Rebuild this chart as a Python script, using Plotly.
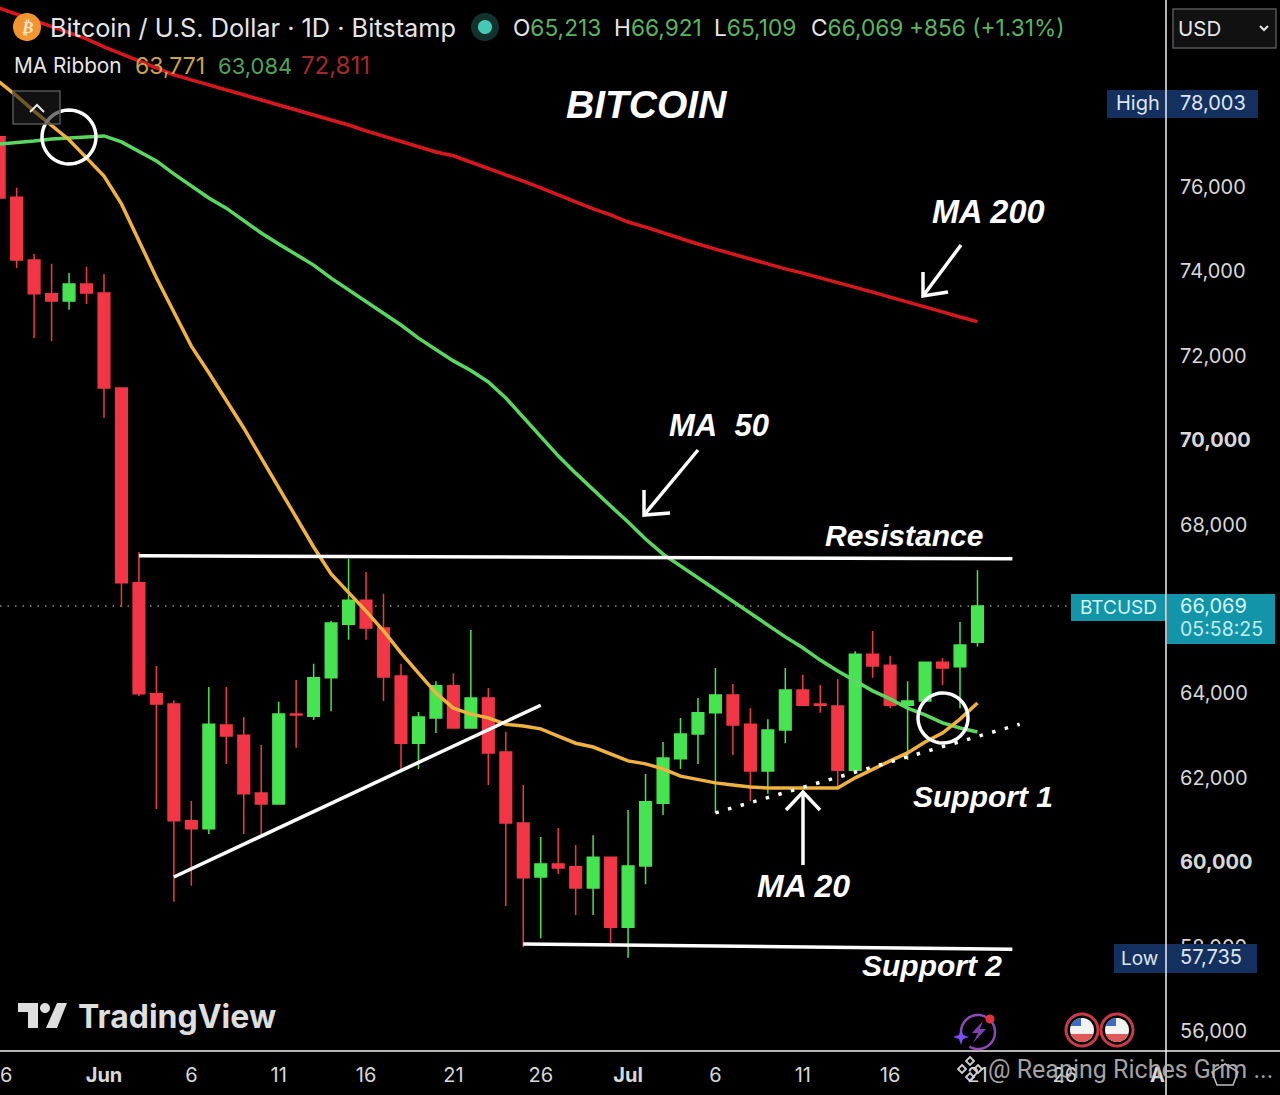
import numpy as np
import pandas as pd
import plotly.graph_objects as go

# ── Data ──────────────────────────────────────────────────────────────────────
DATES = pd.date_range("2024-05-26", "2024-07-21", freq="D")

OPEN = [77190, 75760, 74270, 73470, 73300, 73700,
        73490, 71240, 66620, 63990, 63750, 60980, 60790, 63250, 63010, 61640,
        61380, 63510, 63460, 64370, 65640, 66210, 65550, 64410, 62820, 63420,
        64180, 63180, 63890, 62610, 60930, 59650, 59960, 59890, 59390, 60120,
        58460, 59910, 61400, 62450, 63040, 63540, 63960, 63270, 62160, 63130,
        64080, 63750, 63700, 62180, 64930, 64670, 63720, 63820, 64740, 64630, 65213]
HIGH = [77330, 75980, 74410, 74180, 73960, 74110,
        73940, 71240, 67350, 64650, 63840, 61450, 64150, 64150, 63440, 62780,
        63800, 64320, 64700, 65720, 67190, 66880, 66360, 64700, 63560, 64290,
        64480, 65500, 64130, 63090, 61830, 60600, 60810, 60410, 60640, 60120,
        61240, 62090, 62850, 63420, 63890, 64600, 64220, 63650, 63390, 64600,
        64440, 64200, 64340, 65000, 65480, 64890, 64290, 64740, 64840, 65690, 66921]
LOW = [75740, 74080, 72420, 72350, 73090, 73230,
       70530, 66050, 63940, 61260, 59060, 59440, 60670, 62330, 60670, 60670,
       61380, 62710, 63370, 63580, 65270, 65270, 63820, 62140, 62210, 63060,
       63180, 63180, 61830, 58960, 57990, 58200, 59720, 58750, 58750, 58060,
       57735, 59480, 61120, 62210, 62330, 61170, 62540, 61450, 61620, 62820,
       63720, 63540, 61730, 62160, 64370, 63650, 62420, 63820, 64200, 63650, 65109]
CLOSE = [75740, 74270, 73470, 73300, 73700, 73490,
         71240, 66620, 63990, 63750, 60980, 60790, 63270, 62990, 61620, 61380,
         63510, 63490, 64370, 65670, 66210, 65550, 64390, 62820, 63440, 64180,
         63180, 63890, 62590, 60930, 59630, 59960, 59860, 59390, 60120, 58460,
         59910, 61430, 62470, 63040, 63540, 63960, 63250, 62160, 63130, 64080,
         63720, 63720, 62180, 64930, 64650, 63720, 63820, 64740, 64600, 65150, 66069]

MA20 = [78490, 78160, 77800, 77470, 77120, 76690,
        76260, 75600, 74720, 73850, 73040, 72230, 71600, 70930, 70290, 69580,
        68870, 68160, 67470, 66830, 66400, 65950, 65480, 64960, 64480, 64010,
        63650, 63510, 63420, 63270, 63230, 63160, 62990, 62820, 62730, 62560,
        62400, 62330, 62210, 62040, 61950, 61880, 61830, 61780, 61760, 61760,
        61780, 61780, 61760, 62000, 62210, 62400, 62590, 62850, 63060, 63390, 63771]
MA50 = [77020, 77050, 77090, 77140, 77160, 77190,
        77210, 77070, 76850, 76620, 76310, 76030, 75740, 75500, 75200, 74910,
        74650, 74410, 74150, 73840, 73560, 73300, 73010, 72730, 72420, 72160,
        71880, 71650, 71380, 71000, 70550, 70080, 69630, 69220, 68820, 68440,
        68060, 67660, 67300, 67020, 66730, 66450, 66170, 65910, 65620, 65340,
        65080, 64790, 64530, 64290, 64060, 63870, 63650, 63490, 63300, 63180, 63084]
MA200 = [80240, 80090, 79940, 79790, 79650, 79510,
         79320, 79150, 78990, 78820, 78660, 78540, 78420, 78320, 78180, 78060,
         77950, 77830, 77710, 77590, 77470, 77330, 77210, 77090, 76950, 76830,
         76740, 76590, 76450, 76310, 76140, 75980, 75810, 75650, 75480, 75340,
         75170, 75050, 74910, 74770, 74650, 74530, 74410, 74300, 74180, 74060,
         73960, 73850, 73750, 73630, 73510, 73390, 73280, 73160, 73040, 72920, 72811]

# hand drawn lines on the chart
RESISTANCE_X = ["2024-06-03", "2024-07-23"]
RESISTANCE_Y = [67260, 67190]
SUPPORT2_X = ["2024-06-25", "2024-07-23"]
SUPPORT2_Y = [58060, 57940]
RISING_X = ["2024-06-05", "2024-06-26"]
RISING_Y = [59650, 63720]
SUPPORT1_X = ["2024-07-06", "2024-07-23 10:00"]
SUPPORT1_Y = [61170, 63270]

PRICE_TICKS = [56000, 58000, 60000, 62000, 64000, 66000, 68000, 70000, 72000, 74000, 76000]
PRICE_LABELS = ["56,000", "58,000", "<b>60,000</b>", "62,000", "64,000", "66,000",
                "68,000", "<b>70,000</b>", "72,000", "74,000", "76,000"]
DATE_TICKS = ["2024-06-01", "2024-06-06", "2024-06-11", "2024-06-16", "2024-06-21", "2024-06-26",
              "2024-07-01", "2024-07-06", "2024-07-11", "2024-07-16", "2024-07-21", "2024-07-26"]
DATE_LABELS = ["<b>Jun</b>", "6", "11", "16", "21", "26", "<b>Jul</b>", "6", "11", "16", "21", "26"]

# ── Config ────────────────────────────────────────────────────────────────────
W, H = 1280, 1095
PLOT_R, PLOT_B = 1166, 1051   # right and bottom edge of the plot, pixels
UI_FONT = "Inter"
HAND_FONT = "Liberation Sans"
RED = "#F23645"
GREEN = "#45E450"

fig = go.Figure()


def px(x, y):
    return x / W, 1 - y / H


def path(points, close=False):
    d = "M" + " L".join(f"{px(x, y)[0]:.5f},{px(x, y)[1]:.5f}" for x, y in points)
    return d + (" Z" if close else "")


def arc(cx, cy, r, a0=0, a1=360, n=48):
    a = np.radians(np.linspace(a0, a1, n))
    return list(zip(cx + r * np.cos(a), cy - r * np.sin(a)))


def add_path(points, color=None, width=0, fill=None, close=False):
    fig.add_shape(type="path", xref="paper", yref="paper", path=path(points, close),
                  line=dict(color=color or "rgba(0,0,0,0)", width=width),
                  fillcolor=fill or "rgba(0,0,0,0)", layer="above")


def add_box(x0, y0, x1, y1, fill, color=None, width=0):
    add_path([(x0, y0), (x1, y0), (x1, y1), (x0, y1)], color, width, fill, True)


def add_text(x, y, text, size, color="#e6e6e6", anchor="left", font=UI_FONT, opacity=1):
    # annotations carry about 2px of padding on the left
    x = x - 2 if anchor == "left" else x
    fig.add_annotation(x=px(x, y)[0], y=px(x, y)[1], xref="paper", yref="paper", text=text,
                       showarrow=False, xanchor=anchor, yanchor="middle", opacity=opacity,
                       font=dict(size=size, color=color, family=font))


def hand(x, y, text, size=30):
    add_text(x, y, f"<b><i>{text}</i></b>", size, "white", "center", HAND_FONT)


# ── Moving averages sit behind the candles ────────────────────────────────────
for values, color, name in [(MA200, "#D9161F", "MA 200"), (MA50, "#58D85F", "MA 50"), (MA20, "#EFB23C", "MA 20")]:
    fig.add_trace(go.Scatter(x=DATES, y=values, mode="lines", name=name, line=dict(color=color, width=3.5)))

fig.add_trace(go.Candlestick(
    x=DATES, open=OPEN, high=HIGH, low=LOW, close=CLOSE, name="BTCUSD",
    increasing=dict(line=dict(color=GREEN, width=1.5), fillcolor=GREEN),
    decreasing=dict(line=dict(color=RED, width=1.5), fillcolor=RED),
))

# ── Hand drawn lines ──────────────────────────────────────────────────────────
for xs, ys in [(RESISTANCE_X, RESISTANCE_Y), (SUPPORT2_X, SUPPORT2_Y), (RISING_X, RISING_Y)]:
    fig.add_trace(go.Scatter(x=xs, y=ys, mode="lines", line=dict(color="white", width=3.5)))
fig.add_trace(go.Scatter(x=SUPPORT1_X, y=SUPPORT1_Y, mode="lines",
                         line=dict(color="white", width=3.5, dash="3.5px,9.6px")))

# last price dotted line
fig.add_shape(type="line", xref="paper", yref="y", x0=0, x1=1071 / W, y0=CLOSE[-1], y1=CLOSE[-1],
              line=dict(color="#8a8a8a", width=1.5, dash="1.5px,6px"), layer="below")

# ── Circles and arrows ────────────────────────────────────────────────────────
add_path(arc(69, 137, 27), "white", 3.5)
add_path(arc(943, 718, 25), "white", 3.5)

add_path([(961, 245), (923, 296)], "white", 3.5)
add_path([(923, 272), (923, 296), (948, 292)], "white", 3.5)
add_path([(698, 450), (644, 515)], "white", 3.5)
add_path([(644, 490), (644, 515), (670, 513)], "white", 3.5)
add_path([(803, 865), (803, 792)], "white", 3.5)
add_path([(786, 810), (803, 792), (820, 810)], "white", 3.5)

hand(646, 105, "BITCOIN", 39)
hand(988, 212, "MA 200", 32.5)
hand(719, 426, "MA&nbsp;&nbsp;50", 31)
hand(904, 535, "Resistance")
hand(983, 796, "Support 1")
hand(803, 886, "MA 20", 32)
hand(932, 965, "Support 2")

# ── Header ────────────────────────────────────────────────────────────────────
add_path(arc(27, 27, 14), fill="#F2952F", close=True)
add_text(27, 27, "<b><i>₿</i></b>", 17, "#f7e3c8", "center", "DejaVu Sans")
add_text(50, 27, "Bitcoin / U.S. Dollar · 1D · Bitstamp", 25.3)
add_path(arc(485, 27, 14), fill="#12322D", close=True)
add_path(arc(485, 27, 7), fill="#45C9B4", close=True)

OHLC_GREEN = "#58B65E"
for x, label, value in [(513, "O", "65,213"), (614, "H", "66,921"), (714, "L", "65,109"), (811, "C", "66,069")]:
    add_text(x, 27, f'{label}<span style="color:{OHLC_GREEN}">{value}</span>', 22.7)
add_text(909, 27, "+856 (+1.31%)", 22.7, OHLC_GREEN)

add_text(14, 66, "MA Ribbon", 20.8)
add_text(135, 66, "63,771", 23, "#C9A24B")
add_text(218, 66, "63,084", 22, "#4FA45A")
add_text(301, 66, "72,811", 24, "#A5282F")

# collapse button
add_box(13, 91, 60, 124, "rgba(28,28,28,0.6)", "#555555", 1.5)
add_path([(30, 112), (37, 105), (44, 112)], "#e6e6e6", 2)

# ── Right hand price scale pills ──────────────────────────────────────────────
add_box(1173, 9, 1276, 48, "#111111", "#555555", 1.5)
add_text(1178, 28, "USD", 20.5)
add_path([(1260, 26), (1264, 30), (1268, 26)], "#e6e6e6", 2)

add_box(1107, 90, 1258, 118, "#14305F")
add_text(1116, 103, "High", 20, "#dfe6f2")
add_text(1180, 103, "78,003", 20, "#dfe6f2")

add_box(1114, 944, 1257, 973, "#14305F")
add_text(1121, 958, "Low", 19, "#dfe6f2")
add_text(1180, 957, "57,735", 20, "#dfe6f2")

add_box(1071, 594, 1166, 621, "#1295A8")
add_box(1167, 594, 1275, 644, "#1295A8")
add_text(1118, 607, "BTCUSD", 19, "#d4f4f7", "center")
add_text(1180, 606, "66,069", 20, "#d4f4f7")
add_text(1180, 629, "05:58:25", 19.5, "#c0ecf1")

# frame lines
add_path([(PLOT_R, 0), (PLOT_R, H)], "#f0f0f0", 1.5)
add_path([(0, PLOT_B), (W, PLOT_B)], "#f0f0f0", 1.5)

# ── TradingView logo ──────────────────────────────────────────────────────────
LOGO = "#dedede"
add_path([(18, 1003), (38, 1003), (38, 1028), (28, 1028), (28, 1012), (18, 1012)], fill=LOGO, close=True)
add_path(arc(45, 1008, 5), fill=LOGO, close=True)
add_path([(57, 1003), (67, 1003), (57, 1028), (46, 1028)], fill=LOGO, close=True)
add_text(78, 1016, "<b>TradingView</b>", 32, LOGO)

# ── Small icons above the time axis ───────────────────────────────────────────
add_path(arc(978, 1032, 17, 60, 200), "#8E4BB8", 2.5)
add_path(arc(978, 1032, 17, 240, 400), "#8E4BB8", 2.5)
add_path([(983, 1021), (972, 1033), (978, 1033), (973, 1043), (986, 1029), (980, 1029)], fill="#7E3FB0", close=True)
add_path(arc(990, 1019, 4.5), fill="#E0333C", close=True)
add_path([(961, 1029), (963, 1035), (969, 1037), (963, 1039), (961, 1045), (959, 1039), (953, 1037), (959, 1035)],
         fill="#7B4DFF", close=True)

for cx in [1082, 1117]:
    add_path(arc(cx, 1030, 16), "#C9394A", 3, "#000000", True)
    add_path(arc(cx, 1030, 12), fill="#F3F3F3", close=True)
    add_path(arc(cx, 1030, 12, 200, 340), fill="#DE5A5A", close=True)
    add_path([(cx - 12, 1026), (cx - 1, 1026), (cx - 1, 1018)] + arc(cx, 1030, 12, 95, 165, 10),
             fill="#3E6BC4", close=True)

# ── Bottom strip: clipped labels and watermark ────────────────────────────────
add_text(0, 1075, "6", 20, "#d8d8d8")
add_text(1157, 1075, "<b>A</b>", 20, "#d8d8d8", "center")
add_path([(1225, 1064), (1238, 1072), (1233, 1085), (1217, 1085), (1212, 1072)], "#bdbdbd", 1.5, close=True)

for dx, dy in [(0, -8), (-8, 0), (8, 0), (0, 8)]:
    cx, cy = 970 + dx, 1069 + dy
    add_path([(cx, cy - 4), (cx + 4, cy), (cx, cy + 4), (cx - 4, cy)], "#cfcfcf", 1.8, close=True)
add_text(988, 1069, "@ Reaping Riches Grim ...", 25, "#b5b5b5", font="Roboto", opacity=0.9)

# ── Layout ────────────────────────────────────────────────────────────────────
fig.update_layout(
    width=W,
    height=H,
    autosize=False,
    margin=dict(l=0, r=0, t=0, b=0),
    paper_bgcolor="black",
    plot_bgcolor="black",
    showlegend=False,
    boxgap=0.05,
    font=dict(family=UI_FONT, color="#d8d8d8"),
    xaxis=dict(
        domain=[0, PLOT_R / W],
        type="date",
        range=["2024-05-26 01:08", "2024-07-31 19:00"],
        rangeslider=dict(visible=False),
        showgrid=False,
        zeroline=False,
        tickmode="array",
        tickvals=DATE_TICKS,
        ticktext=DATE_LABELS,
        tickfont=dict(size=20, color="#d8d8d8"),
        ticks="outside",
        ticklen=6,
        tickcolor="black",
    ),
    yaxis=dict(
        domain=[1 - PLOT_B / H, 1],
        side="right",
        range=[55526, 80432],
        showgrid=False,
        zeroline=False,
        tickmode="array",
        tickvals=PRICE_TICKS,
        ticktext=PRICE_LABELS,
        tickfont=dict(size=20, color="#d8d8d8"),
        ticks="outside",
        ticklen=9,
        tickcolor="black",
    ),
)

# ── Export ────────────────────────────────────────────────────────────────────
fig.write_html("out.html", config={"displayModeBar": False},
               post_script="document.body.style.margin='0';document.body.style.background='black';")
